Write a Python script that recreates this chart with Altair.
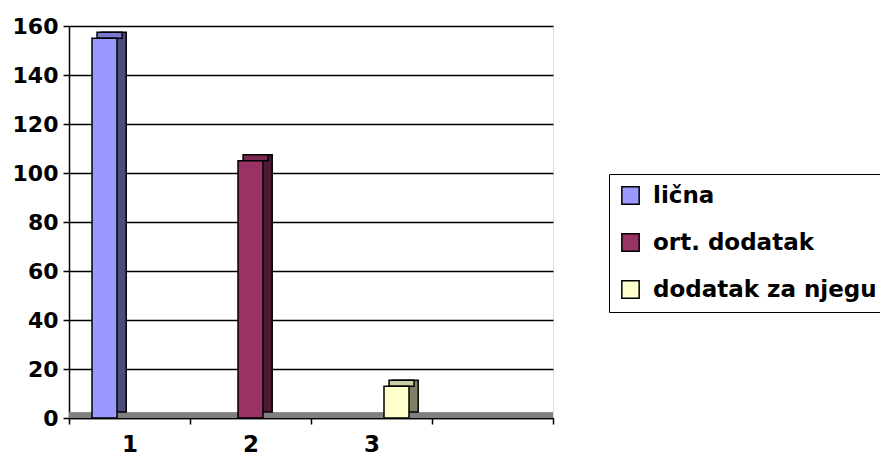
import altair as alt
import pandas as pd

categories = ["1", "2", "3"]
axis_domain = ["1", "2", "3", "4"]
series = ["lična", "ort. dodatak", "dodatak za njegu"]
values = [155, 105, 13]
front_colors = ["#9999FF", "#993366", "#FFFFCC"]
top_colors = ["#7A7ACC", "#7A2952", "#CCCCA3"]
side_colors = ["#4B4B80", "#4D1A33", "#808066"]
y_ticks = [0, 20, 40, 60, 80, 100, 120, 140, 160]

df = pd.DataFrame({
    "cat": categories,
    "series": series,
    "value": values,
    "side": side_colors,
    "top": top_colors,
})

FONT = "DejaVu Sans"

x_enc = alt.X(
    "cat:N",
    scale=alt.Scale(domain=axis_domain, paddingInner=0, paddingOuter=0),
    axis=alt.Axis(
        title=None, labelAngle=0, tickBand="extent", ticks=True, tickSize=6,
        tickColor="black", tickWidth=1.5, domainColor="black", domainWidth=1.5,
        labelFont=FONT, labelFontSize=23, labelFontWeight="bold", labelColor="black",
        labelPadding=9, grid=False,
        labelExpr="datum.value == '4' ? '' : datum.value",
    ),
)


def xoff(align):
    return alt.XOffset(
        "series:N",
        scale=alt.Scale(domain=series, paddingInner=0, paddingOuter=0.92, align=align),
    )


y_scale = alt.Scale(domain=[0, 160], nice=False)
y_enc = alt.Y(
    "value:Q",
    scale=y_scale,
    axis=alt.Axis(
        title=None, values=y_ticks, tickSize=6, tickColor="black", tickWidth=1.5,
        domainColor="black", domainWidth=1.5, labelFont=FONT, labelFontSize=22,
        labelFontWeight="bold", labelColor="black", labelPadding=5,
        grid=True, gridColor="black", gridWidth=1.5,
    ),
)

base = alt.Chart(df)

floor = alt.Chart(df).mark_rule(color="#808080", strokeWidth=5, yOffset=-3).encode(
    y=alt.datum(0, scale=y_scale)
)

side = base.mark_bar(yOffset=-6, stroke="black", strokeWidth=1.5).encode(
    x=x_enc, xOffset=xoff(0.70), y=y_enc,
    fill=alt.Fill("side:N", scale=None),
)

top = base.mark_bar(yOffset=-6, y2Offset=0, stroke="black", strokeWidth=1.5).encode(
    x=x_enc, xOffset=xoff(0.61), y=y_enc, y2=alt.Y2("value:Q"),
    fill=alt.Fill("top:N", scale=None),
)

front = base.mark_bar(stroke="black", strokeWidth=1.5).encode(
    x=x_enc, xOffset=xoff(0.5), y=y_enc,
    color=alt.Color(
        "series:N",
        scale=alt.Scale(domain=series, range=front_colors),
        legend=alt.Legend(
            title=None, orient="none", legendX=540, legendY=148,
            symbolType="square", symbolSize=300, symbolStrokeColor="black",
            symbolStrokeWidth=1.5, labelFont=FONT, labelFontSize=23,
            labelFontWeight="bold", labelColor="black", labelOffset=11,
            rowPadding=22, padding=10, strokeColor="black", fillColor="white",
            labelLimit=400,
        ),
    ),
)

chart = alt.layer(floor, side, top, front).resolve_scale(
    xOffset="independent"
).properties(
    width=484, height=392,
    autosize=alt.AutoSizeParams(type="none"),
    padding={"left": 61, "top": 18, "right": 327, "bottom": 38},
).configure_view(
    fill="#C0C0C0", stroke="#808080", strokeWidth=1.5
).configure(background="white")

chart.save("out.html", embed_options={"renderer": "svg", "actions": False})
